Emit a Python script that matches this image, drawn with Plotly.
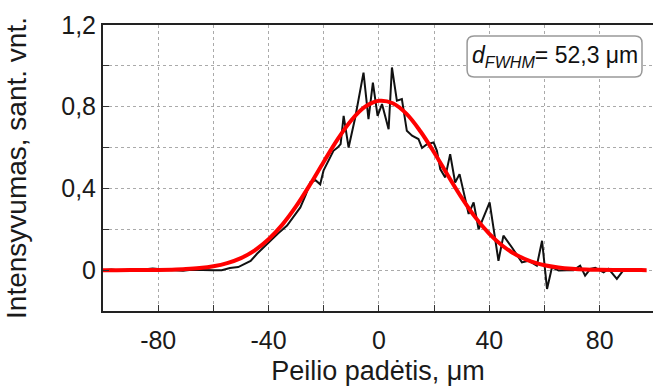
import plotly.graph_objects as go

# Measured (noisy) profile
meas_x = [-100, -97, -94, -91, -88, -85, -82, -80, -77, -74, -71, -68, -65, -62, -60,
          -57, -54, -51, -49, -46.5, -44.2, -42, -39.4, -36.5, -33.3, -31, -28.5, -26.5,
          -24.9, -23, -21.3, -20.1, -18, -16.5, -15, -13.9, -12.8, -11.0, -8.6, -5.6,
          -3.8, -2.2, -0.5, 1.1, 3.5, 4.7, 6.5, 8.3, 10.1, 12.0, 14.3, 15.6, 17.4, 19.8,
          21.0, 22.2, 24.0, 25.8, 27.6, 29.2, 32.5, 34.3, 36.1, 40.1, 43.3, 45.1, 48.2,
          51.8, 54.2, 57.2, 59.1, 60.9, 62.7, 65.1, 68.1, 70.5, 72.9, 74.7, 76.6, 78.4,
          81.4, 83.2, 86.2, 88.6]
meas_y = [0.0, 0.003, -0.002, 0.002, 0.0, 0.004, 0.008, 0.006, 0.001, 0.0, -0.003, 0.002, 0.0, -0.002, 0.0,
          0.0, 0.01, 0.015, 0.03, 0.045, 0.08, 0.11, 0.144, 0.18, 0.218, 0.26, 0.307, 0.37,
          0.43, 0.44, 0.42, 0.487, 0.54, 0.584, 0.60, 0.617, 0.755, 0.60, 0.747, 0.967,
          0.739, 0.918, 0.755, 0.813, 0.69, 0.992, 0.829, 0.837, 0.682, 0.658, 0.642, 0.598, 0.617, 0.625,
          0.584, 0.495, 0.454, 0.568, 0.429, 0.47, 0.275, 0.332, 0.20, 0.332, 0.046, 0.169, 0.111,
          0.038, 0.046, 0.022, 0.144, -0.092, 0.014, -0.002, 0.0, 0.0, 0.022, -0.027, 0.006, 0.011,
          -0.011, 0.006, -0.043, 0.0]

# Fitted curve
fit_x = [-100, -95, -90, -85, -80, -75, -70, -65, -60, -55, -50, -45, -40, -35, -30, -25,
         -20, -15, -10, -5, 0, 5, 10, 15, 20, 25, 30, 35, 40, 45, 50, 55, 60, 65, 70, 75,
         80, 85, 90, 95, 97]
fit_y = [0.0, 0.0, 0.0002, 0.0005, 0.0011, 0.0024, 0.005, 0.010, 0.019, 0.0345, 0.059, 0.097,
         0.151, 0.223, 0.313, 0.418, 0.531, 0.640, 0.734, 0.800, 0.829, 0.817, 0.765, 0.680,
         0.576, 0.463, 0.354, 0.257, 0.178, 0.117, 0.073, 0.043, 0.024, 0.013, 0.0067, 0.0032,
         0.0015, 0.0006, 0.0003, 0.0001, 0.0]

x_tickvals = [-80, -40, 0, 40, 80]
x_ticktext = ["-80", "-40", "0", "40", "80"]
x_minor = [-100, -60, -20, 20, 60]
y_tickvals = [0.0, 0.4, 0.8, 1.2]
y_ticktext = ["0", "0,4", "0,8", "1,2"]
y_minor = [-0.2, 0.2, 0.6, 1.0]

annot_text = "<i>d</i><sub><i>FWHM</i></sub>= 52,3 μm"

FONT = "Liberation Sans, Arial, sans-serif"

fig = go.Figure()
fig.add_trace(go.Scatter(x=meas_x, y=meas_y, mode="lines",
                         line=dict(color="#111111", width=2), showlegend=False))
fig.add_trace(go.Scatter(x=fit_x, y=fit_y, mode="lines",
                         line=dict(color="#ff0000", width=4, shape="spline"), showlegend=False))

# rounded annotation box in paper coordinates
x0, x1, y0, y1 = 0.662, 0.98, 0.818, 0.9615
rx, ry = 7 / 550, 7 / 286
path = (f"M {x0+rx},{y0} L {x1-rx},{y0} Q {x1},{y0} {x1},{y0+ry} "
        f"L {x1},{y1-ry} Q {x1},{y1} {x1-rx},{y1} L {x0+rx},{y1} Q {x0},{y1} {x0},{y1-ry} "
        f"L {x0},{y0+ry} Q {x0},{y0} {x0+rx},{y0} Z")
fig.add_shape(type="path", path=path, xref="paper", yref="paper",
              line=dict(color="#999999", width=1.5), fillcolor="white", layer="above")
fig.add_annotation(x=(x0 + x1) / 2, y=(y0 + y1) / 2, xref="paper", yref="paper",
                   text=annot_text, showarrow=False, xanchor="center", yanchor="middle",
                   font=dict(family=FONT, size=23, color="#111111"))

grid_common = dict(showgrid=True, gridcolor="#aaaaaa", griddash="dot", gridwidth=1)
minor_common = dict(ticks="inside", ticklen=6, tickwidth=1, tickcolor="#333",
                    showgrid=True, gridcolor="#aaaaaa", griddash="dot", gridwidth=1)

fig.update_layout(
    width=653, height=390,
    margin=dict(l=103, r=0, t=25, b=79),
    paper_bgcolor="white", plot_bgcolor="white",
    font=dict(family=FONT, color="#1a1a1a"),
    xaxis=dict(range=[-100, 99.3], tickvals=x_tickvals, ticktext=x_ticktext,
               ticks="inside", ticklen=6, tickwidth=1, tickcolor="#333",
               showline=True, linecolor="#222", linewidth=2, mirror=True,
               zeroline=False, tickfont=dict(size=25), ticklabelstandoff=6,
               minor=dict(tickvals=x_minor, **minor_common), **grid_common,
               title=dict(text="Peilio padėtis, μm", font=dict(size=27), standoff=8)),
    yaxis=dict(range=[-0.2, 1.2], tickvals=y_tickvals, ticktext=y_ticktext,
               ticks="inside", ticklen=6, tickwidth=1, tickcolor="#333",
               showline=True, linecolor="#222", linewidth=2, mirror=False,
               zeroline=False, tickfont=dict(size=25),
               minor=dict(tickvals=y_minor, **minor_common), **grid_common,
               title=dict(text="Intensyvumas, sant. vnt.", font=dict(size=28), standoff=26)),
)

fig.write_html("out.html")
